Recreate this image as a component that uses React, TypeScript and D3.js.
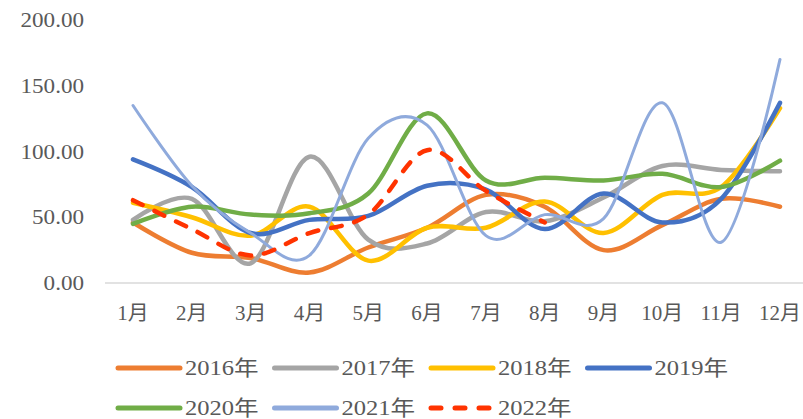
import React, { useEffect, useRef } from 'react';
import * as d3 from 'd3';

const months = ['1月', '2月', '3月', '4月', '5月', '6月', '7月', '8月', '9月', '10月', '11月', '12月'];
const yTicks = [0, 50, 100, 150, 200];

const s2016 = [46, 23, 19, 8, 27, 42, 67, 58, 25, 44, 64, 58];
const s2017 = [48, 64, 15, 96, 33, 30, 54, 47, 65, 89, 86, 85];
const s2018 = [61, 50, 36, 58, 17, 42, 42, 62, 38, 67, 73, 133];
const s2019 = [94, 73, 38, 48, 51, 74, 71, 41, 68, 46, 64, 137];
const s2020 = [45, 58, 52, 53, 68, 129, 78, 80, 78, 83, 73, 93];
const s2021 = [135, 74, 38, 21, 110, 120, 36, 52, 49, 137, 31, 170];
const s2022 = [63, 41, 21, 38, 52, 101, 70, 46];

const series = [
  { name: '2016年', values: s2016, color: '#ED7D31', width: 4.5, dash: null },
  { name: '2017年', values: s2017, color: '#A5A5A5', width: 4.5, dash: null },
  { name: '2018年', values: s2018, color: '#FFC000', width: 4.5, dash: null },
  { name: '2019年', values: s2019, color: '#4472C4', width: 4.5, dash: null },
  { name: '2020年', values: s2020, color: '#70AD47', width: 4.5, dash: null },
  { name: '2021年', values: s2021, color: '#8FAADC', width: 3, dash: null },
  { name: '2022年', values: s2022, color: '#FF3300', width: 4.5, dash: '11 13' },
];

const font = '"Times New Roman", "Liberation Serif", "Noto Sans CJK SC", serif';

const App: React.FC = () => {
  const svgRef = useRef<SVGSVGElement>(null);

  useEffect(() => {
    if (!svgRef.current) return;
    const svg = d3.select(svgRef.current);
    svg.selectAll('*').remove();

    const x = d3.scalePoint<string>().domain(months).range([133, 780]);
    const y = d3.scaleLinear().domain([0, 200]).range([283, 20]);

    // y labels
    svg.append('g')
      .selectAll('text')
      .data(yTicks)
      .join('text')
      .attr('transform', d => `translate(84,${y(d) + 7}) scale(1.1,1)`)
      .attr('text-anchor', 'end')
      .attr('fill', '#595959')
      .style('font-family', font)
      .style('font-size', '21px')
      .text(d => d.toFixed(2));

    // baseline
    svg.append('line')
      .attr('x1', 105).attr('x2', 803)
      .attr('y1', y(0)).attr('y2', y(0))
      .attr('stroke', '#D9D9D9')
      .attr('stroke-width', 1.5);

    // x labels
    svg.append('g')
      .selectAll('text')
      .data(months)
      .join('text')
      .attr('transform', d => `translate(${x(d)},320) scale(1.05,1)`)
      .attr('text-anchor', 'middle')
      .attr('fill', '#595959')
      .style('font-family', font)
      .style('font-size', '20px')
      .text(d => d);

    const line = d3.line<number>()
      .x((_, i) => x(months[i]) as number)
      .y(d => y(d))
      .curve(d3.curveCardinal.tension(0));

    series.forEach(s => {
      svg.append('path')
        .datum(s.values)
        .attr('d', line)
        .attr('fill', 'none')
        .attr('stroke', s.color)
        .attr('stroke-width', s.width)
        .attr('stroke-linecap', 'round')
        .attr('stroke-linejoin', 'round')
        .attr('stroke-dasharray', s.dash);
    });

    // legend
    const legend = svg.append('g');
    series.forEach((s, i) => {
      const col = i < 4 ? i : i - 4;
      const row = i < 4 ? 0 : 1;
      const lx = 118 + col * 156.5;
      const ly = 368 + row * 40;
      legend.append('line')
        .attr('x1', lx).attr('x2', lx + 62)
        .attr('y1', ly).attr('y2', ly)
        .attr('stroke', s.color)
        .attr('stroke-width', 5)
        .attr('stroke-linecap', 'round')
        .attr('stroke-dasharray', s.dash ? '10 14' : null);
      legend.append('text')
        .attr('transform', `translate(${lx + 67},${ly + 7}) scale(1.17,1)`)
        .attr('fill', '#595959')
        .style('font-family', font)
        .style('font-size', '21px')
        .text(s.name);
    });
  }, []);

  return (
    <svg
      ref={svgRef}
      width={803}
      height={419}
      style={{ position: 'absolute', left: 0, top: 0, background: '#fff' }}
    />
  );
};

export default App;
